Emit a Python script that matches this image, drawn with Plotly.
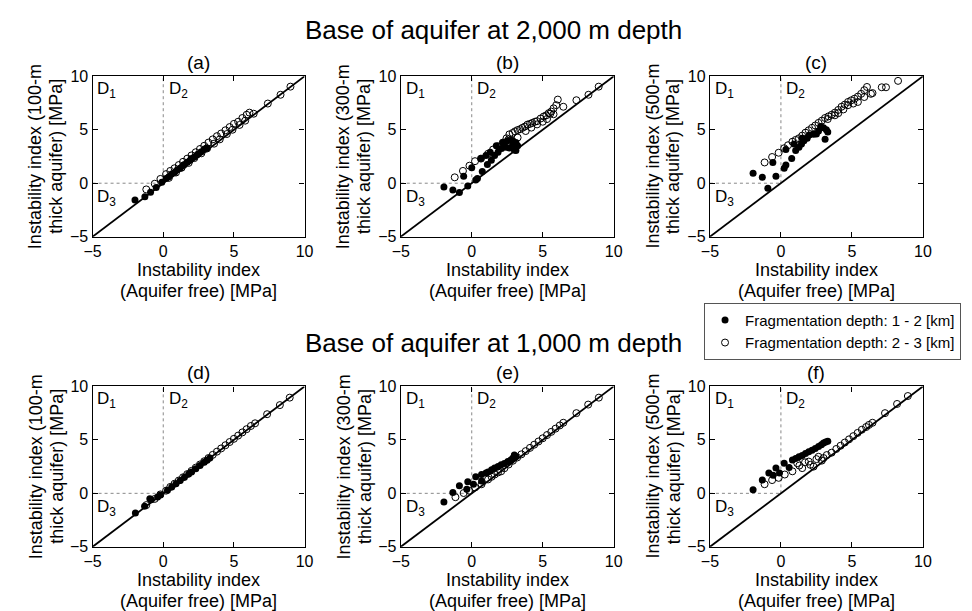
import plotly.graph_objects as go

# ---------------- data ----------------
AX_MIN, AX_MAX = -5, 10
TICKS = [-5, 0, 5, 10]
PANEL_LABELS = ["(a)", "(b)", "(c)", "(d)", "(e)", "(f)"]
THICKNESS = ["100-m", "300-m", "500-m", "100-m", "300-m", "500-m"]
ROW_TITLES = ["Base of aquifer at 2,000 m depth", "Base of aquifer at 1,000 m depth"]
SERIES_NAMES = ["Fragmentation depth: 1 - 2 [km]", "Fragmentation depth: 2 - 3 [km]"]

# panel (a)
a_fx = [-2.0, -1.3, -0.9, -0.5, -0.1, 0.2, 0.4, 0.6, 0.8, 1.0, 1.2, 1.4, 1.5, 1.7, 1.9, 2.0, 2.2, 2.4, 2.5, 2.7, 2.9, 3.0, 3.1]
a_fy = [-1.57, -1.27, -0.85, -0.4, 0.1, 0.45, 0.6, 0.85, 1.0, 1.25, 1.4, 1.65, 1.75, 1.95, 2.15, 2.3, 2.45, 2.65, 2.75, 2.95, 3.15, 3.25, 3.3]
a_ox = [-1.2, -0.6, -0.2, 0.2, 0.5, 0.8, 1.1, 1.4, 1.7, 2.0, 2.3, 2.6, 2.9, 3.2, 3.5, 3.8, 4.1, 4.4, 4.7, 5.0, 5.3, 5.6, 5.9, 6.1,
        0.4, 0.9, 1.3, 1.8, 2.2, 2.7, 3.1, 3.6, 4.0, 4.5, 4.9, 5.4, 5.8, 6.4, 7.4, 8.3, 9.0]
a_oy = [-0.58, -0.05, 0.4, 0.85, 1.15, 1.4, 1.7, 2.0, 2.3, 2.6, 2.9, 3.2, 3.5, 3.8, 4.1, 4.4, 4.65, 4.95, 5.25, 5.55, 5.75, 6.1, 6.4, 6.6,
        0.5, 1.0, 1.45, 1.9, 2.35, 2.8, 3.25, 3.7, 4.1, 4.6, 5.0, 5.45, 5.85, 6.5, 7.45, 8.27, 9.03]

# panel (b)
b_fx = [-1.96, -1.33, -0.87, -0.57, -0.28, 0.28, 0.4, 0.74, 1.1, 1.38, 1.61, 1.85, 2.1, 2.42, 2.65, 2.88, 3.0, 3.11, 3.23,
        0.0, 0.65, 1.0, 1.3, 1.73, 2.19, 2.5, 2.88, 3.11]
b_fy = [-0.36, -0.64, -0.88, 0.64, -0.27, 0.3, 0.45, 1.09, 1.76, 2.15, 2.6, 2.9, 3.25, 3.36, 3.3, 3.67, 3.1, 3.06, 3.5,
        1.45, 2.3, 2.6, 2.9, 3.5, 3.8, 3.97, 4.0, 3.8]
b_ox = [-1.2, -0.62, -0.16, 0.23, 0.65, 1.15, 1.5, 1.85, 2.19, 2.45, 2.65, 2.88, 3.05, 3.23, 3.4, 3.57, 3.75, 3.92, 4.1, 4.26,
        4.45, 4.6, 4.85, 5.07, 5.25, 5.42, 5.6, 5.76, 5.95, 6.06,
        2.6, 3.23, 3.8, 4.2, 4.6, 5.0, 5.3, 5.53, 5.76, 6.45, 7.37, 8.22, 8.94]
b_oy = [0.55, 1.15, 1.64, 2.06, 2.3, 2.76, 3.15, 3.45, 3.8, 4.2, 4.57, 4.7, 4.85, 4.97, 5.05, 5.18, 5.3, 5.48, 5.55, 5.64,
        5.75, 5.8, 6.05, 6.24, 6.35, 6.55, 6.7, 7.0, 7.3, 7.82,
        4.1, 4.27, 4.88, 5.2, 5.5, 5.75, 6.0, 6.5, 6.45, 7.15, 7.76, 8.27, 9.03]

# panel (c)
c_fx = [-1.96, -1.31, -0.92, -0.57, -0.35, 0.23, 0.35, 0.76, 1.04, 1.27, 1.45, 1.62, 1.85, 0.35, 0.92, 1.5, 2.0, 2.3, 2.65,
        2.8, 3.0, 3.11, 3.3, 2.5, 3.2]
c_fy = [0.94, 0.55, -0.48, 1.94, 0.64, 1.39, 1.7, 2.3, 3.06, 3.36, 3.67, 3.97, 4.2, 3.15, 3.67, 4.2, 4.5, 4.58, 4.88,
        5.3, 5.18, 4.12, 4.79, 4.6, 5.0]
c_ox = [-1.15, -0.62, -0.16, 0.23, 0.5, 0.81, 1.04, 1.27, 1.5, 1.73, 1.96, 2.19, 2.42, 2.65, 2.88, 3.11, 3.35, 3.57, 3.8,
        4.04, 4.27, 4.5, 4.73, 4.95, 5.18, 5.42, 5.65, 5.87, 6.06,
        3.3, 3.8, 4.04, 4.4, 4.73, 5.1, 5.42, 5.87, 6.34, 6.45, 7.1, 7.4, 8.25]
c_oy = [1.94, 2.45, 2.85, 3.27, 3.55, 3.88, 4.05, 4.2, 4.45, 4.73, 4.95, 5.18, 5.4, 5.64, 5.85, 6.1, 6.25, 6.4, 6.6,
        6.85, 7.15, 7.35, 7.6, 7.75, 7.9, 8.1, 8.36, 8.7, 9.0,
        6.0, 6.35, 6.55, 6.9, 7.3, 7.45, 7.6, 8.06, 8.36, 8.43, 8.97, 8.97, 9.57]

# panel (d)
d_fx = [-1.97, -1.32, -0.95, -0.85, -0.4, -0.2, 0.3, 0.6, 0.9, 1.2, 1.5, 1.8, 2.0, 2.3, 2.6, 2.9, 3.1, 3.3]
d_fy = [-1.85, -1.2, -0.5, -0.6, -0.35, -0.15, 0.3, 0.6, 0.9, 1.2, 1.5, 1.8, 2.0, 2.3, 2.6, 2.9, 3.1, 3.3]
d_ox = [-1.2, -0.6, -0.2, 0.2, 0.5, 0.8, 1.1, 1.4, 1.7, 2.0, 2.3, 2.6, 2.9, 3.2, 3.5, 3.8, 4.1, 4.4, 4.7, 5.0, 5.3, 5.6,
        5.9, 6.2, 6.5, 7.35, 8.25, 8.95]
d_oy = [-1.1, -0.52, -0.1, 0.25, 0.6, 0.9, 1.2, 1.5, 1.8, 2.1, 2.4, 2.7, 3.0, 3.3, 3.6, 3.9, 4.2, 4.5, 4.8, 5.1, 5.4, 5.7,
        6.0, 6.3, 6.55, 7.4, 8.25, 8.95]

# panel (e)
e_fx = [-1.96, -1.33, -0.87, -0.35, -0.28, 0.12, 0.28, 0.69, 0.69, 1.0, 1.15, 1.4, 1.61, 1.85, 2.07, 2.3, 2.54, 2.75, 2.88, 3.0, 3.1]
e_fy = [-0.82, 0.09, 0.7, 0.39, 1.09, 0.85, 1.55, 1.76, 1.15, 1.9, 2.0, 2.2, 2.36, 2.5, 2.67, 2.8, 2.97, 3.1, 3.27, 3.58, 3.45]
e_ox = [-1.15, -0.57, -0.18, 0.23, 0.69, 1.15, 1.4, 1.61, 1.85, 2.07, 2.3, 2.6, 2.9, 3.2, 3.5, 3.8, 4.1, 4.4, 4.7, 5.0,
        5.3, 5.6, 5.9, 6.2, 6.45, 7.37, 8.2, 8.95]
e_oy = [-0.36, 0.03, 0.24, 0.55, 0.85, 1.3, 1.55, 1.76, 1.95, 2.06, 2.35, 2.7, 3.05, 3.35, 3.65, 3.95, 4.25, 4.55, 4.85, 5.15,
        5.45, 5.75, 6.05, 6.35, 6.6, 7.5, 8.3, 8.95]

# panel (f)
f_fx = [-1.96, -1.31, -0.85, -0.55, -0.35, -0.1, 0.23, 0.58, 0.81, 1.04, 1.27, 1.5, 1.73, 1.96, 2.19, 2.42, 2.65, 2.85, 3.0, 3.15, 3.3]
f_fy = [0.33, 1.24, 1.91, 1.7, 2.36, 1.9, 2.82, 2.42, 3.12, 3.25, 3.42, 3.55, 3.73, 3.88, 4.03, 4.2, 4.39, 4.55, 4.7, 4.8, 4.88]
f_ox = [-1.15, -0.62, -0.16, 0.27, 0.81, 1.15, 1.5, 1.96, 2.07, 2.65, 2.88, 3.23, 3.57, 3.9, 4.2, 4.5, 4.8, 5.1, 5.4, 5.7,
        6.0, 6.2, 6.45, 7.33, 8.18, 8.94, 1.3, 1.7, 2.3, 2.5, 3.0]
f_oy = [0.85, 1.24, 1.45, 1.76, 2.06, 2.82, 2.36, 2.97, 2.67, 3.42, 3.06, 3.58, 3.8, 4.15, 4.45, 4.75, 5.05, 5.35, 5.65, 5.95,
        6.2, 6.4, 6.6, 7.5, 8.36, 9.1, 2.6, 2.9, 2.5, 3.2, 3.3]

PANELS = [(a_fx, a_fy, a_ox, a_oy), (b_fx, b_fy, b_ox, b_oy), (c_fx, c_fy, c_ox, c_oy),
          (d_fx, d_fy, d_ox, d_oy), (e_fx, e_fy, e_ox, e_oy), (f_fx, f_fy, f_ox, f_oy)]

# ---------------- layout geometry ----------------
W, H = 972, 611
FONT = "Liberation Sans, Arial, Helvetica, sans-serif"
COL_PX = [(77, 293), (391, 608), (706, 923)]
ROW_PX = [(62, 227), (381, 546)]

def px_x(p):
    return p / W

def px_y(p):
    return 1 - p / H

fig = go.Figure()
layout = dict(
    width=W, height=H, margin=dict(l=0, r=0, t=0, b=0),
    paper_bgcolor="white", plot_bgcolor="white",
    font=dict(family=FONT, size=16, color="black"),
    showlegend=True,
    legend=dict(x=px_x(700), y=px_y(295), xanchor="left", yanchor="top",
                bordercolor="#555555", borderwidth=1, bgcolor="white",
                font=dict(size=15, family=FONT), itemwidth=30, tracegroupgap=0),
)
annotations = []

for i, (fx, fy, ox, oy) in enumerate(PANELS):
    r, c = divmod(i, 3)
    n = "" if i == 0 else str(i + 1)
    xa, ya = "x" + n, "y" + n
    x0, x1 = COL_PX[c]
    y0, y1 = ROW_PX[r]
    axis_common = dict(range=[AX_MIN, AX_MAX], tickvals=TICKS, ticks="inside", ticklen=5, tickwidth=1,
                       tickcolor="black", showline=True, linecolor="black", linewidth=1.3, mirror="ticks",
                       showgrid=False, zeroline=False, tickfont=dict(size=16, family=FONT, color="black"))
    layout["xaxis" + n] = dict(domain=[px_x(x0), px_x(x1)], anchor=ya, **axis_common)
    layout["yaxis" + n] = dict(domain=[px_y(y1), px_y(y0)], anchor=xa, **axis_common)

    # dotted quadrant dividers
    fig.add_trace(go.Scatter(x=[0, 0], y=[0, AX_MAX], mode="lines", xaxis=xa, yaxis=ya,
                             line=dict(color="#888888", width=1, dash="dot"), showlegend=False, hoverinfo="skip"))
    fig.add_trace(go.Scatter(x=[AX_MIN, 0], y=[0, 0], mode="lines", xaxis=xa, yaxis=ya,
                             line=dict(color="#888888", width=1, dash="dot"), showlegend=False, hoverinfo="skip"))
    # 1:1 line
    fig.add_trace(go.Scatter(x=[AX_MIN, AX_MAX], y=[AX_MIN, AX_MAX], mode="lines", xaxis=xa, yaxis=ya,
                             line=dict(color="black", width=1.8), showlegend=False, hoverinfo="skip"))
    # data
    fig.add_trace(go.Scatter(x=fx, y=fy, mode="markers", xaxis=xa, yaxis=ya, name=SERIES_NAMES[0],
                             legendgroup="g1", showlegend=(i == 0),
                             marker=dict(symbol="circle", size=7, color="black", line=dict(width=0))))
    fig.add_trace(go.Scatter(x=ox, y=oy, mode="markers", xaxis=xa, yaxis=ya, name=SERIES_NAMES[1],
                             legendgroup="g2", showlegend=(i == 0),
                             marker=dict(symbol="circle-open", size=7, color="black", line=dict(width=1))))

    # region labels
    for txt, xx, yy in [("D<sub>1</sub>", -4.8, 8.7), ("D<sub>2</sub>", 0.25, 8.7), ("D<sub>3</sub>", -4.8, -1.35)]:
        annotations.append(dict(text=txt, x=xx, y=yy, xref=xa, yref=ya, xanchor="left", yanchor="middle",
                                showarrow=False, font=dict(size=17, family=FONT)))

    cx = (x0 + x1) / 2
    # panel label
    annotations.append(dict(text=PANEL_LABELS[i], x=px_x(cx), y=px_y(y0 - 14), xref="paper", yref="paper",
                            xanchor="center", yanchor="middle", showarrow=False, font=dict(size=19, family=FONT)))
    # x title (two lines)
    annotations.append(dict(text="Instability index", x=px_x(cx), y=px_y(y1 + 34), xref="paper", yref="paper",
                            xanchor="center", yanchor="middle", showarrow=False, font=dict(size=18, family=FONT)))
    annotations.append(dict(text="(Aquifer free) [MPa]", x=px_x(cx), y=px_y(y1 + 56), xref="paper", yref="paper",
                            xanchor="center", yanchor="middle", showarrow=False, font=dict(size=18, family=FONT)))
    # y title (two lines, rotated)
    cy = (y0 + y1) / 2
    annotations.append(dict(text="Instability index (" + THICKNESS[i], x=px_x(x0 - 58), y=px_y(cy), xref="paper",
                            yref="paper", xanchor="center", yanchor="middle", textangle=-90, showarrow=False,
                            font=dict(size=18, family=FONT)))
    annotations.append(dict(text="thick aquifer) [MPa]", x=px_x(x0 - 37), y=px_y(cy), xref="paper",
                            yref="paper", xanchor="center", yanchor="middle", textangle=-90, showarrow=False,
                            font=dict(size=18, family=FONT)))

# row titles
for r, t in enumerate(ROW_TITLES):
    annotations.append(dict(text=t, x=px_x(485), y=px_y([14, 336][r]), xref="paper", yref="paper",
                            xanchor="center", yanchor="middle", showarrow=False, font=dict(size=26, family=FONT)))

layout["annotations"] = annotations
fig.update_layout(**layout)
fig.write_html("out.html")
